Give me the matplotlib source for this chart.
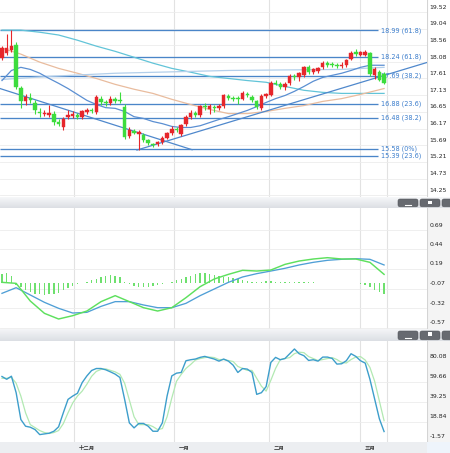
import numpy as np
import matplotlib
matplotlib.use('Agg')
import matplotlib.pyplot as plt
import matplotlib.transforms as mtransforms
from matplotlib.patches import FancyBboxPatch, Rectangle

plt.rcParams['font.family'] = ['DejaVu Sans', 'Noto Sans CJK SC']

# ---------------- data ----------------
opens = [18.20, 18.33, 18.42, 18.57, 17.33, 16.95, 17.05, 16.90, 16.65, 16.60,
         16.55, 16.60, 16.37, 16.20, 16.50, 16.53, 16.55, 16.49, 16.65, 16.71,
         16.64, 17.03, 16.93, 16.89, 17.01, 16.97, 16.80, 15.95, 16.10, 16.01,
         15.97, 15.83, 15.72, 15.72, 15.77, 15.91, 16.03, 16.17, 16.00, 16.30,
         16.51, 16.61, 16.55, 16.83, 16.73, 16.77, 16.77, 16.81, 17.10, 17.05,
         17.03, 17.03, 17.17, 17.09, 16.95, 16.77, 17.11, 17.13, 17.49, 17.45,
         17.37, 17.47, 17.69, 17.65, 17.71, 17.93, 17.81, 17.83, 17.93, 18.05,
         18.01, 17.99, 17.97, 17.99, 18.17, 18.37, 18.29, 18.29, 18.34, 17.71,
         17.81, 17.75]
closes = [18.50, 18.48, 18.55, 17.35, 16.95, 17.07, 17.00, 16.70, 16.61, 16.63,
          16.63, 16.35, 16.31, 16.45, 16.57, 16.58, 16.50, 16.67, 16.71, 16.67,
          17.07, 16.93, 16.89, 17.03, 16.97, 16.95, 15.92, 16.12, 16.05, 16.07,
          15.83, 15.74, 15.69, 15.77, 15.91, 16.03, 16.17, 16.13, 16.26, 16.51,
          16.63, 16.57, 16.81, 16.78, 16.81, 16.75, 16.81, 17.13, 17.05, 17.03,
          17.01, 17.20, 17.13, 16.99, 16.79, 17.11, 17.15, 17.49, 17.45, 17.37,
          17.45, 17.69, 17.65, 17.77, 17.93, 17.81, 17.87, 17.91, 18.05, 18.01,
          17.99, 17.97, 18.01, 18.14, 18.35, 18.32, 18.36, 18.37, 17.73, 17.89,
          17.57, 17.49]
highs = [18.55, 18.90, 19.00, 18.65, 17.40, 17.15, 17.20, 17.00, 16.75, 16.70,
         16.85, 16.67, 16.45, 16.50, 16.70, 16.67, 16.63, 16.71, 16.77, 16.77,
         17.13, 17.10, 17.00, 17.10, 17.07, 17.21, 16.88, 16.20, 16.15, 16.13,
         16.03, 15.87, 15.75, 15.81, 15.95, 16.07, 16.23, 16.21, 16.30, 16.55,
         16.70, 16.67, 16.85, 16.90, 16.87, 16.85, 16.87, 17.17, 17.17, 17.10,
         17.10, 17.25, 17.23, 17.13, 16.99, 17.15, 17.20, 17.55, 17.57, 17.50,
         17.51, 17.75, 17.75, 17.81, 17.97, 17.99, 17.91, 17.95, 18.10, 18.11,
         18.07, 18.05, 18.07, 18.18, 18.39, 18.47, 18.41, 18.43, 18.37, 17.95,
         17.85, 17.79]
lows = [18.15, 18.28, 18.38, 17.30, 16.75, 16.85, 16.90, 16.60, 16.50, 16.53,
        16.50, 16.27, 16.25, 16.13, 16.45, 16.47, 16.43, 16.43, 16.60, 16.61,
        16.60, 16.85, 16.81, 16.85, 16.91, 16.91, 15.88, 15.90, 16.00, 15.56,
        15.77, 15.69, 15.65, 15.67, 15.73, 15.87, 15.99, 16.07, 15.95, 16.25,
        16.45, 16.51, 16.50, 16.70, 16.60, 16.65, 16.70, 16.77, 16.99, 16.95,
        16.87, 17.00, 17.07, 16.93, 16.73, 16.70, 17.05, 17.10, 17.41, 17.30,
        17.27, 17.43, 17.57, 17.53, 17.65, 17.75, 17.73, 17.77, 17.89, 17.95,
        17.93, 17.91, 17.91, 17.95, 18.13, 18.27, 18.25, 18.25, 17.67, 17.59,
        17.53, 17.45]

# moving averages (read at sample indices)
teal_idx = [0, 4, 8, 12, 16, 20, 24, 28, 32, 36, 40, 44, 48, 52, 56, 60, 64, 68, 72, 76, 81]
teal_val = [19.00, 19.00, 18.94, 18.86, 18.71, 18.54, 18.39, 18.22, 18.05, 17.90, 17.79,
            17.67, 17.61, 17.55, 17.50, 17.38, 17.27, 17.21, 17.18, 17.18, 17.18]
tan_idx = teal_idx
tan_val = [18.48, 18.31, 18.08, 17.90, 17.76, 17.61, 17.44, 17.30, 17.18, 17.01, 16.86,
           16.72, 16.60, 16.60, 16.66, 16.75, 16.83, 16.95, 17.03, 17.15, 17.32]
pale_idx = [0, 10, 24, 48, 72, 81]
pale_val = [17.58, 17.67, 17.76, 17.84, 17.87, 17.93]
ma_idx = list(range(0, 80, 2)) + [81]
ma_val = [17.55, 17.84, 17.93, 17.87, 17.76, 17.61, 17.47, 17.32, 17.15, 16.98,
          16.86, 16.77, 16.75, 16.66, 16.51, 16.46, 16.37, 16.31, 16.23, 16.20,
          16.20, 16.25, 16.34, 16.43, 16.51, 16.60, 16.69, 16.80, 16.92, 17.03,
          17.12, 17.24, 17.38, 17.53, 17.64, 17.70, 17.76, 17.84, 17.93, 17.99, 17.99]

# trend lines (endpoints)
tl_down_x = [-0.42, 40.3]
tl_down_y = [17.32, 15.56]
tl_up_x = [28.6, 90.1]
tl_up_y = [15.55, 18.07]

# Fibonacci levels
fib_vals = [18.99, 18.24, 17.69, 16.88, 16.48, 15.58, 15.39]
fib_labels = ["18.99 (61.8)", "18.24 (61.8)", "17.69 (38.2)", "16.88 (23.6)",
              "16.48 (38.2)", "15.58 (0%)", "15.39 (23.6)"]

# MACD
macd_idx = list(range(0, 82, 3))
dea_val = [-0.127, -0.054, -0.148, -0.243, -0.320, -0.381, -0.372, -0.295, -0.234, -0.234,
           -0.277, -0.312, -0.312, -0.256, -0.157, -0.071, 0.015, 0.084, 0.127, 0.161,
           0.196, 0.239, 0.273, 0.299, 0.312, 0.320, 0.312, 0.239]
dif_val = [0.015, 0.002, -0.226, -0.385, -0.458, -0.415, -0.355, -0.234, -0.157, -0.234,
           -0.312, -0.355, -0.312, -0.183, -0.041, 0.058, 0.118, 0.170, 0.161, 0.174,
           0.247, 0.290, 0.316, 0.333, 0.316, 0.316, 0.273, 0.118]
hist_val = [0.12, 0.13, 0.10, -0.02, -0.05, -0.08, -0.11, -0.13, -0.14, -0.15,
            -0.14, -0.13, -0.12, -0.09, -0.06, -0.03, -0.01, 0.01, 0.02, 0.04,
            0.06, 0.08, 0.10, 0.11, 0.10, 0.08, 0.02, -0.01, -0.03, -0.04,
            -0.04, -0.04, -0.03, -0.02, -0.01, 0.01, 0.02, 0.04, 0.06, 0.08,
            0.10, 0.12, 0.13, 0.13, 0.12, 0.11, 0.10, 0.09, 0.08, 0.07,
            0.06, 0.04, 0.03, 0.02, 0.02, 0.02, 0.03, 0.03, 0.02, 0.02,
            0.02, 0.02, 0.02, 0.02, 0.02, 0.02, 0.02, 0.01, 0.01, 0.01,
            0.01, 0.01, 0.0, 0.0, 0.01, 0.0, -0.01, -0.02, -0.04, -0.08,
            -0.11, -0.13]

# Stochastic
stoch_k = [64.8, 62.0, 65.1, 48.4, 21.2, 14.4, 13.4, 11.0, 5.9, 6.6,
           7.3, 9.3, 13.8, 28.0, 41.6, 45.0, 47.8, 58.6, 65.4, 70.9,
           72.9, 72.9, 71.6, 69.5, 67.2, 63.8, 41.6, 17.8, 12.7, 17.2,
           17.2, 14.4, 9.3, 9.3, 17.8, 45.0, 65.4, 68.2, 68.9, 80.8,
           81.8, 82.5, 84.2, 85.2, 83.8, 82.5, 80.4, 82.5, 80.4, 76.3,
           68.9, 72.9, 72.3, 68.9, 46.7, 48.4, 54.6, 79.1, 84.2, 81.8,
           83.1, 87.9, 92.7, 87.9, 85.9, 81.1, 81.8, 80.4, 84.5, 84.5,
           83.1, 77.4, 77.7, 80.8, 87.9, 85.2, 80.8, 78.4, 62.0, 42.0,
           22.0, 9.0]
stoch_d = [63, 63, 64, 58, 45, 28, 16, 13, 10, 8,
           7, 8, 10, 17, 28, 38, 45, 50, 57, 65,
           70, 72, 72.5, 71, 69.5, 67, 58, 41, 24, 16,
           16, 16, 14, 11, 12, 24, 43, 60, 67, 73,
           77, 81.5, 83, 84, 84.5, 84, 82, 82, 81, 80,
           75, 73, 71, 71, 63, 55, 50, 61, 73, 82,
           83, 84, 88, 89.5, 89, 85, 83, 81, 82, 83,
           84, 82, 79, 78.5, 82, 84.5, 85, 81.5, 74, 60,
           40, 20]

month_pos = [15.3, 36.5, 56.6, 75.9, 81.6]
month_labels = ["十二月", "一月", "二月", "三月"]

price_ticks = [19.52, 19.04, 18.56, 18.08, 17.61, 17.13, 16.65, 16.17, 15.69, 15.21, 14.73, 14.25]
macd_ticks = [0.69, 0.44, 0.19, -0.07, -0.32, -0.57]
stoch_ticks = [80.08, 59.66, 39.25, 18.84, -1.57]

# ---------------- layout ----------------
W, H = 450, 453
fig = plt.figure(figsize=(4.5, 4.53), dpi=100)
fig.patch.set_facecolor('white')


def ax_px(x0, y0, x1, y1, **kw):
    return fig.add_axes([x0 / W, 1 - y1 / H, (x1 - x0) / W, (y1 - y0) / H], **kw)


XL = (-0.42, 90.1)
RED = '#e6262b'
GRN = '#3ddc3d'
GRID = '#ececec'
VGRID = '#e2e2e2'
FIB = '#4a85c8'

# x label band (behind everything)
xb = ax_px(0, 442, 450, 453)
xb.set_zorder(-1)
xb.set_xlim(0, 450); xb.set_ylim(1, 0)
xb.axis('off')
xb.add_patch(Rectangle((0, 0), 427, 1, fc='#eceef1', ec='none'))
xb.add_patch(Rectangle((427, 0), 23, 1, fc='#eef4fb', ec='none'))

# label columns backgrounds
for (y0, y1, c) in [(0, 197, 'white'), (208, 329, '#f4f4f4'), (341, 442, '#f4f4f4')]:
    b = ax_px(427, y0, 450, y1)
    b.set_zorder(-1)
    b.set_facecolor(c)
    b.set_xticks([]); b.set_yticks([])
    for s in b.spines.values():
        s.set_visible(False)
    b.axvline(0, color='#d4d4d4', lw=0.8)
    b.set_xlim(0, 1)

ax = ax_px(0, 0, 427, 197)
axm = ax_px(0, 208, 427, 329)
axs = ax_px(0, 341, 427, 442)

for a in (ax, axm, axs):
    a.set_xlim(*XL)
    a.set_xticks([]); a.set_yticks([])
    for s in a.spines.values():
        s.set_visible(False)
    a.set_facecolor('none')
    for mp in month_pos:
        a.axvline(mp, color=VGRID, lw=0.8, zorder=0)


def right_labels(a, ticks, fmt):
    off = mtransforms.ScaledTranslation(0, 5 / 100, fig.dpi_scale_trans)
    tr = mtransforms.blended_transform_factory(a.transAxes, a.transData) + off
    for t in ticks:
        a.axhline(t, color=GRID, lw=0.6, zorder=0)
        a.text(1.006, t, fmt.format(t), transform=tr, ha='left', va='center',
               fontsize=4.4, color='#222222', clip_on=False)


# ---------------- main panel ----------------
ax.set_ylim(14.20, 19.867)
right_labels(ax, price_ticks, '{:.2f}')

for v, lab in zip(fib_vals, fib_labels):
    ax.hlines(v, XL[0], 79.7, color=FIB, lw=0.95, zorder=2)
    ax.text(80.4, v, lab, fontsize=4.7, color='#3b7dcc', ha='left', va='center', zorder=3)

ax.plot(teal_idx, teal_val, color='#62c4d8', lw=0.9, zorder=2)
ax.plot(tan_idx, tan_val, color='#e9bc9e', lw=0.9, zorder=2)
ax.plot(pale_idx, pale_val, color='#b3cfea', lw=0.9, zorder=2)
ax.plot(ma_idx, ma_val, color='#5b8fd2', lw=0.9, zorder=2)
ax.plot(tl_down_x, tl_down_y, color='#4f88cc', lw=0.9, zorder=2)
ax.plot(tl_up_x, tl_up_y, color='#4f88cc', lw=0.9, zorder=2)

idx = np.arange(len(closes))
o = np.array(opens); c = np.array(closes)
cols = [RED if cc >= oo else GRN for oo, cc in zip(o, c)]
bottoms = np.minimum(o, c)
heights = np.maximum(np.abs(c - o), 0.03)
ax.vlines(idx, lows, highs, colors=cols, lw=0.8, zorder=4)
ax.bar(idx, heights, bottom=bottoms, width=0.74, color=cols, edgecolor=cols, lw=0.3, zorder=5)

# ---------------- MACD panel ----------------
axm.set_ylim(-0.587, 0.974)
right_labels(axm, macd_ticks, '{:.2f}')
axm.bar(idx, hist_val, width=0.3, color='#6ee06e', zorder=2)
axm.plot(macd_idx, dea_val, color='#4f9fd6', lw=0.95, zorder=3)
axm.plot(macd_idx, dif_val, color='#5ee05e', lw=1.05, zorder=3)

# ---------------- Stochastic panel ----------------
axs.set_ylim(-1.6, 100.8)
right_labels(axs, stoch_ticks, '{:.2f}')
axs.plot(idx, stoch_d, color='#b2e9b2', lw=0.9, zorder=2)
axs.plot(idx, stoch_k, color='#3d9ecb', lw=1.0, zorder=3)

# month labels below the stochastic panel
tr = mtransforms.blended_transform_factory(axs.transData, fig.transFigure)
for mp, lab in zip(month_pos[:4], month_labels):
    axs.text(mp + 1.0, 1 - 448 / H, lab, transform=tr, fontsize=3.9, color='#333333',
             ha='left', va='center', clip_on=False, fontweight='bold', zorder=10)

# ---------------- header bars ----------------
def header(y0, y1):
    hb = ax_px(0, y0, 450, y1)
    grad = np.linspace(0, 1, 32).reshape(-1, 1)
    hb.imshow(grad, aspect='auto', cmap=matplotlib.colors.LinearSegmentedColormap.from_list(
        'g', ['#f6f7f9', '#dcdfe4']), extent=(0, 450, y1, y0))
    hb.set_xlim(0, 450); hb.set_ylim(y1, y0)
    hb.axis('off')
    for bx0, bx1 in [(398, 418), (420, 440), (442, 462)]:
        hb.add_patch(FancyBboxPatch((bx0, y0 + 2), bx1 - bx0, (y1 - y0) - 3.2,
                                    boxstyle='round,pad=0,rounding_size=2',
                                    fc='#676a70', ec='#55585d', lw=0.4))
    hb.plot([405, 411], [y1 - 3, y1 - 3], color='white', lw=0.8)
    hb.add_patch(Rectangle((428, y0 + 3.5), 4, 3.5, fc='white', ec='none'))


header(197, 208)
header(329, 341)

fig.savefig('out.png', dpi=100)
